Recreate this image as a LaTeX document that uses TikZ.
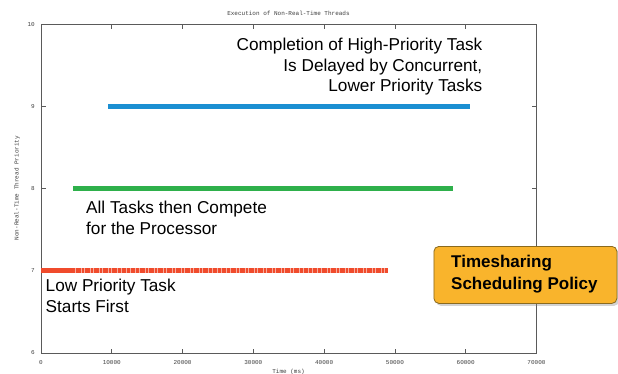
\documentclass[tikz,border=0pt]{standalone}
\usepackage{fontspec}
\setmainfont{Liberation Sans}
\newfontfamily\plotmono{Liberation Mono}
\usetikzlibrary{shadows}
\definecolor{axisgray}{HTML}{5A5A5A}
\definecolor{hiblue}{HTML}{1B8FD2}
\definecolor{midgreen}{HTML}{2EB04B}
\definecolor{lored}{HTML}{F04B2C}
\definecolor{boxfill}{HTML}{F9B42C}
\definecolor{boxedge}{HTML}{8A6A1E}
\tikzset{
  axisline/.style={draw=axisgray, line width=0.9pt},
  tickmark/.style={draw=axisgray, line width=0.7pt},
  ticklabel/.style={font=\plotmono\fontsize{6}{7}\selectfont, text=black!75, inner sep=0pt},
  taskbar/.style={line width=5pt},
  annot/.style={font=\fontsize{17.2}{20.6}\selectfont, inner sep=0pt},
  policybox/.style={draw=boxedge, line width=0.8pt, fill=boxfill, rounded corners=5pt,
    drop shadow={shadow xshift=2pt, shadow yshift=-2.5pt, opacity=0.35}},
}
\begin{document}
\begin{tikzpicture}[x=1pt, y=-1pt]
\useasboundingbox (0,0) rectangle (618,374);
\fill[white] (0,0) rectangle (618,374);

% plot frame
\draw[axisline] (41,24.5) rectangle (536.5,353);

% x ticks: bottom (up) and top (down)
\foreach \v [count=\i from 0] in {0,10000,20000,30000,40000,50000,60000,70000} {
  \pgfmathsetmacro{\xx}{41+70.78*\i}
  \node[ticklabel, anchor=north] (xl\i) at (\xx,360) {\v};
}
\foreach \i in {1,...,6} {
  \pgfmathsetmacro{\xx}{41+70.78*\i}
  \draw[tickmark] (\xx,353) -- (\xx,348.5);
  \draw[tickmark] (\xx,24.5) -- (\xx,29);
}

% y ticks: left and right
\foreach \v [count=\i from 0] in {10,9,8,7,6} {
  \pgfmathsetmacro{\yy}{24.5+82.1*\i}
  \node[ticklabel, anchor=east] (yl\i) at (35,\yy) {\v};
}
\foreach \i in {1,2,3} {
  \pgfmathsetmacro{\yy}{24.5+82.1*\i}
  \draw[tickmark] (41,\yy) -- (45.5,\yy);
  \draw[tickmark] (536.5,\yy) -- (532,\yy);
}

% titles
\node[ticklabel] (ttl) at (288.5,13) {Execution of Non-Real-Time Threads};
\node[ticklabel, anchor=north] (xlab) at (288.5,369) {Time (ms)};
\node[ticklabel, rotate=90] (ylab) at (17,188) {Non-Real-Time Thread Priority};

% task bars
\coordinate (b9s) at (108,106.6);
\coordinate (b9e) at (470,106.6);
\coordinate (b8s) at (73,188.7);
\coordinate (b8e) at (453,188.7);
\coordinate (b7s) at (41,270.8);
\coordinate (b7m) at (75,270.8);
\coordinate (b7e) at (388,270.8);
\draw[taskbar, hiblue] (b9s) -- (b9e);
\draw[taskbar, midgreen] (b8s) -- (b8e);
\draw[taskbar, lored] (b7s) -- (b7e);
% thin light breaks between the sampled points of the low-priority task
\draw[taskbar, white, opacity=0.55, dash pattern=on 0.8pt off 5pt on 0.8pt off 2.5pt] (b7m) -- (b7e);

% annotations
\node[annot, anchor=north east, align=right] (hiTxt) at (482.5,38)
  {Completion of High-Priority Task\\Is Delayed by Concurrent,\\Lower Priority Tasks};
\node[annot, anchor=north west, align=left] (midTxt) at (86,201)
  {All Tasks then Compete\\for the Processor};
\node[annot, anchor=north west, align=left] (loTxt) at (45.5,279)
  {Low Priority Task\\Starts First};

% policy box
\node[policybox, minimum width=183pt, minimum height=57pt, anchor=north west,
      inner sep=0pt] (policy) at (433.5,246) {};
\node[annot, font=\bfseries\fontsize{17}{21.5}\selectfont, anchor=north west, align=left]
  (policyTxt) at (451,255) {Timesharing\\Scheduling Policy};
\end{tikzpicture}
\end{document}
